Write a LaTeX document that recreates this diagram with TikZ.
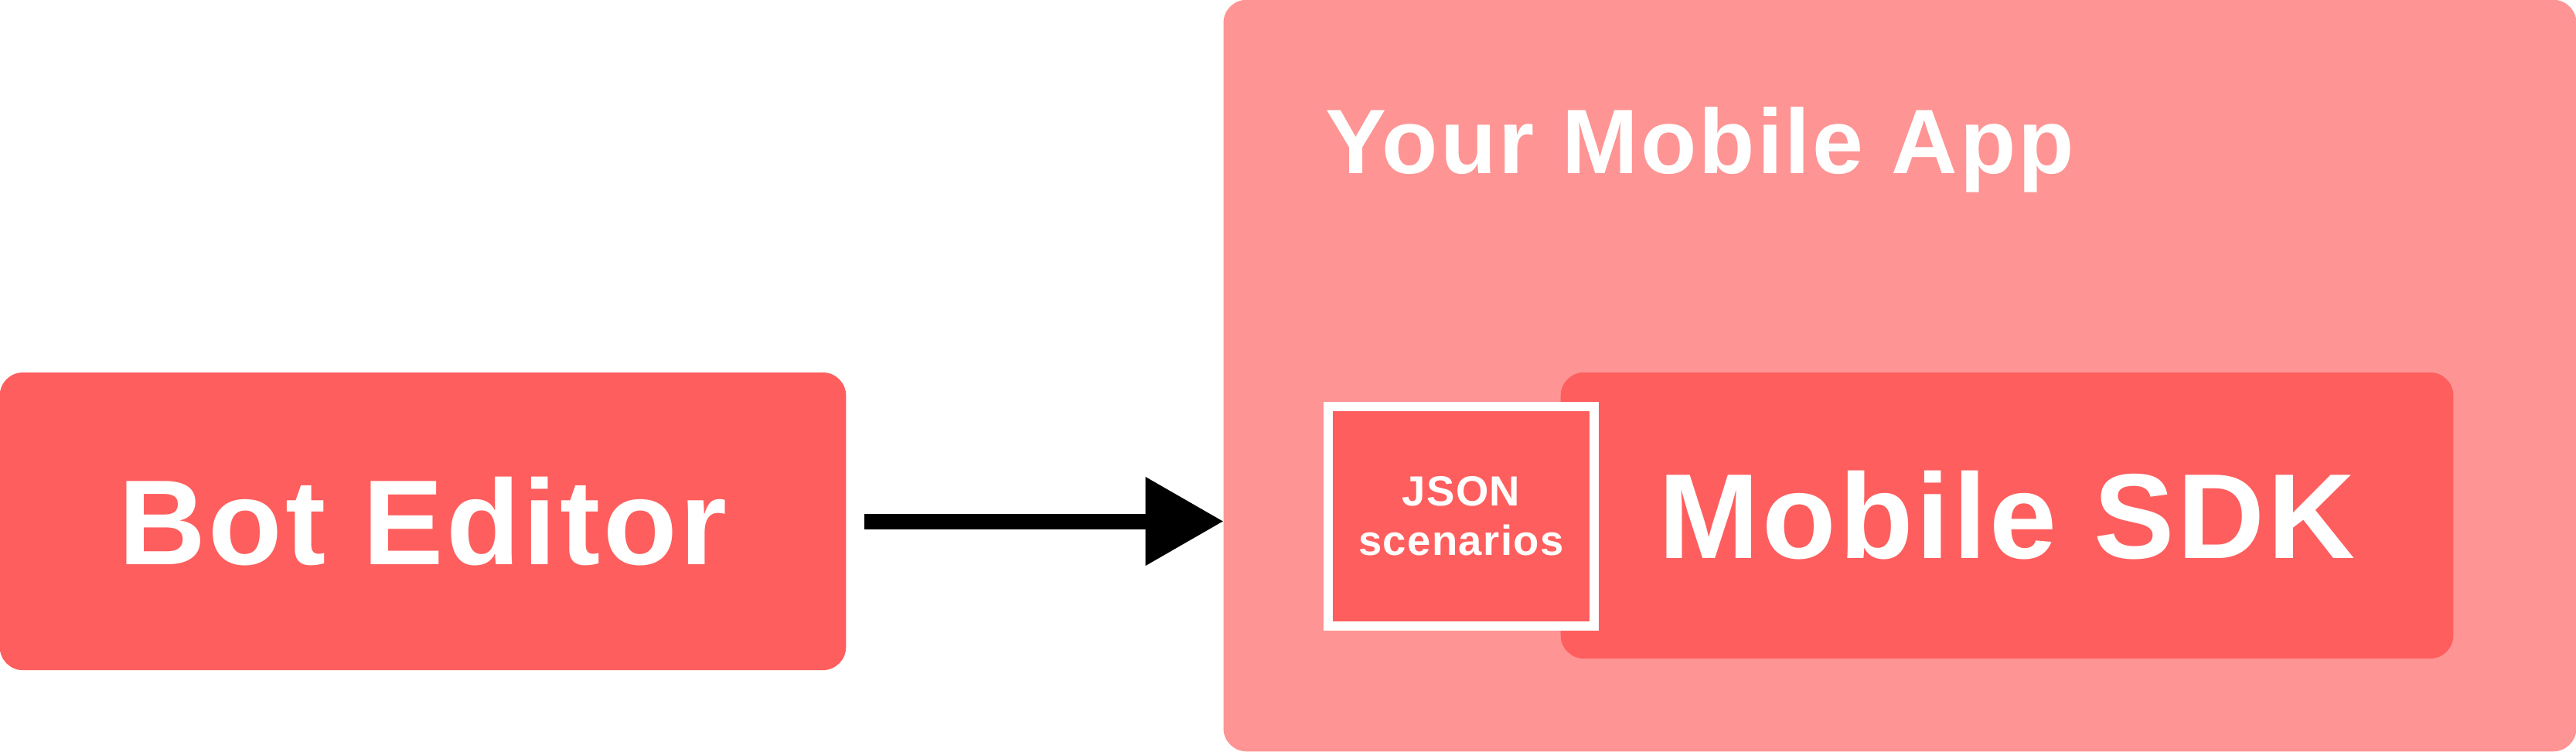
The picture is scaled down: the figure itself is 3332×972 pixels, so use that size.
\documentclass[tikz,border=0pt]{standalone}
\usepackage{fontspec}
\setmainfont{Liberation Sans}
\newfontfamily\widesans[LetterSpace=2.5]{Liberation Sans}
\usetikzlibrary{arrows.meta}
\definecolor{sdkred}{HTML}{FF5E5E}
\definecolor{apppink}{HTML}{FF9494}

\begin{document}
\begin{tikzpicture}[x=.01cm, y=-.01cm,
  box/.style={rectangle, rounded corners=.3cm, inner sep=0pt},
  bigtxt/.style={text=white, font=\widesans\fontsize{44.5}{50}\selectfont\bfseries},
  apptxt/.style={text=white, inner sep=0pt, font=\widesans\fontsize{33.7}{38}\selectfont\bfseries},
  json/.style={draw=white, line width=.12cm, fill=sdkred, text=white, align=center,
    inner sep=0pt, minimum width=3.44cm, minimum height=2.84cm,
    font=\widesans\fontsize{15.5}{18.2}\selectfont\bfseries},
  arrow/.style={line width=.2cm, -{Triangle[length=1cm, width=1.15cm, line width'=0pt]}}]
\useasboundingbox (0,0) rectangle (3332,972);
\node[box, fill=apppink, minimum width=17.49cm, minimum height=9.72cm] (app) at (2457.5,486) {};
\node[box, fill=sdkred, minimum width=11.54cm, minimum height=3.70cm, bigtxt] (sdk) at (2596,667) {Mobile SDK};
\node[box, fill=sdkred, minimum width=10.94cm, minimum height=3.85cm, bigtxt] (bot) at (547,674.5) {Bot Editor};
\node[apptxt, anchor=base west] (apptitle) at (1714,224) {Your Mobile App};
\node[json] (scen) at (1890,668) {JSON\\scenarios};
\draw[arrow] ([xshift=.23cm]bot.east) -- (bot.east -| app.west);
\end{tikzpicture}
\end{document}
